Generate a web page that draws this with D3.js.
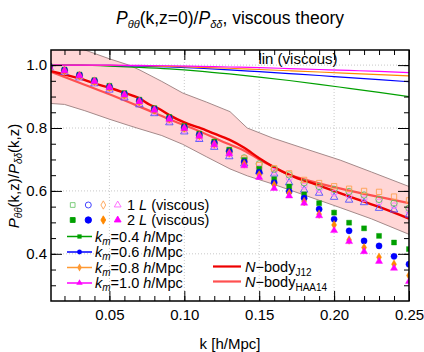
<!DOCTYPE html>
<html>
<head>
<meta charset="utf-8">
<script src="https://cdn.jsdelivr.net/npm/d3@7"></script>
<style>
body { margin:0; background:#fff; }
svg { font-family:"Liberation Sans", Arial, sans-serif; }
</style>
</head>
<body>
<svg id="chart" width="424" height="352"></svg>
<script>
// k values of the simulation/theory points
var kPts = [0.01,0.02,0.03,0.04,0.05,0.06,0.07,0.08,0.09,0.10,0.11,0.12,0.13,
            0.14,0.15,0.16,0.17,0.18,0.19,0.20,0.21,0.22,0.23,0.24,0.25];

// 2-loop (filled markers)
var twoL04 = [0.997,0.986,0.970,0.952,0.934,0.911,0.890,0.863,0.835,0.806,0.782,0.757,0.731,
              0.698,0.670,0.637,0.614,0.589,0.561,0.531,0.499,0.481,0.457,0.436,0.415];
var twoL06 = [0.996,0.984,0.968,0.950,0.931,0.908,0.887,0.860,0.831,0.802,0.778,0.752,0.725,
              0.692,0.659,0.626,0.598,0.577,0.542,0.510,0.473,0.441,0.425,0.392,0.367];
var twoL08 = [0.995,0.983,0.967,0.949,0.930,0.906,0.885,0.858,0.829,0.800,0.776,0.749,0.721,
              0.686,0.651,0.619,0.593,0.566,0.526,0.492,0.444,0.420,0.389,0.367,0.331];
var twoL10 = [0.995,0.982,0.966,0.948,0.929,0.905,0.884,0.857,0.828,0.799,0.774,0.747,0.718,
              0.680,0.643,0.608,0.584,0.561,0.521,0.474,0.439,0.407,0.376,0.354,0.312];

// 1-loop (open markers)
var oneLa = [0.994,0.981,0.965,0.947,0.928,0.904,0.883,0.856,0.828,0.799,0.776,0.751,0.726,
             0.703,0.682,0.672,0.656,0.635,0.625,0.615,0.607,0.600,0.597,0.582,0.570];
var oneLb = [0.995,0.982,0.966,0.948,0.929,0.905,0.884,0.857,0.829,0.800,0.777,0.752,0.727,
             0.705,0.686,0.669,0.651,0.626,0.614,0.605,0.598,0.587,0.573,0.561,0.545];
var oneLc = [0.993,0.979,0.962,0.944,0.925,0.900,0.879,0.851,0.822,0.793,0.769,0.744,0.717,
             0.695,0.672,0.662,0.640,0.615,0.604,0.593,0.585,0.575,0.565,0.553,0.535];
var oneLd = [0.992,0.977,0.960,0.941,0.921,0.896,0.874,0.846,0.817,0.788,0.764,0.739,0.709,
             0.686,0.661,0.654,0.626,0.603,0.593,0.580,0.571,0.563,0.545,0.540,0.524];

// linear (viscous) curves
var linK   = [0.011,0.03,0.05,0.07,0.09,0.11,0.13,0.15,0.17,0.19,0.21,0.23,0.25];
var lin04  = [1.0,0.9995,0.997,0.993,0.988,0.981,0.972,0.962,0.951,0.939,0.926,0.913,0.900];
var lin06  = [1.0,1.0,0.999,0.997,0.994,0.990,0.985,0.979,0.973,0.967,0.960,0.954,0.947];
var lin08  = [1.0,1.0,0.999,0.998,0.996,0.993,0.990,0.986,0.982,0.978,0.974,0.970,0.966];
var lin10  = [1.0,1.0,1.0,0.999,0.998,0.996,0.994,0.992,0.989,0.986,0.983,0.980,0.976];

// N-body fits
var j12K = [0.011,0.02,0.03,0.04,0.05,0.06,0.07,0.077,0.084,0.09,0.10,0.11,0.12,0.13,0.14,
            0.15,0.17,0.19,0.21,0.23,0.25];
var j12V = [0.981,0.970,0.958,0.942,0.928,0.912,0.894,0.874,0.859,0.841,0.818,0.801,0.782,
            0.763,0.737,0.704,0.651,0.617,0.583,0.549,0.512];
var haaK = [0.011,0.03,0.05,0.07,0.09,0.11,0.13,0.14,0.15,0.16,0.17,0.18,0.19,0.21,0.23,0.25];
var haaV = [0.979,0.944,0.907,0.868,0.828,0.790,0.748,0.728,0.700,0.675,0.652,0.637,0.624,
            0.601,0.581,0.561];

// band
var bandK  = [0.011,0.02,0.0336,0.05,0.063,0.0704,0.085,0.099,0.115,0.1305,0.142,0.159,
              0.18,0.204,0.225,0.25];
var bandHi = [1.087,1.071,1.048,1.020,1.0,0.984,0.948,0.911,0.882,0.852,0.800,0.768,
              0.735,0.698,0.660,0.614];
var bandLo = [0.878,0.875,0.855,0.828,0.808,0.797,0.776,0.748,0.708,0.670,0.648,0.622,
              0.587,0.547,0.511,0.462];

var xMajor = [0.05,0.10,0.15,0.20,0.25];
var yMajor = [0.4,0.6,0.8,1.0];

var svg = d3.select("#chart");
var box = {left:51, right:409, top:50, bottom:301};

var x = d3.scaleLinear().domain([0.011,0.25]).range([box.left,box.right]);
var y = d3.scaleLinear().domain([0.25,1.048]).range([box.bottom,box.top]);

svg.append("clipPath").attr("id","clip")
    .append("rect").attr("x",box.left).attr("y",box.top)
    .attr("width",box.right-box.left).attr("height",box.bottom-box.top);

// grid
var grid = svg.append("g").attr("stroke","#c8c8c8").attr("stroke-dasharray","1,2");
xMajor.slice(0,4).forEach(function(k){
    grid.append("line").attr("x1",x(k)).attr("x2",x(k)).attr("y1",box.top).attr("y2",box.bottom);
});
yMajor.forEach(function(v){
    grid.append("line").attr("x1",box.left).attr("x2",box.right).attr("y1",y(v)).attr("y2",y(v));
});

var plot = svg.append("g").attr("clip-path","url(#clip)");

// band
var bandPts = bandK.map(function(k,i){ return {k:k,hi:bandHi[i],lo:bandLo[i]}; });
plot.append("path").datum(bandPts)
    .attr("fill","#ffd6d6")
    .attr("d",d3.area().x(function(d){return x(d.k);})
        .y0(function(d){return y(d.lo);}).y1(function(d){return y(d.hi);}));
["hi","lo"].forEach(function(key){
    plot.append("path").datum(bandPts)
        .attr("fill","none").attr("stroke","#a48a8a").attr("stroke-width",1)
        .attr("d",d3.line().x(function(d){return x(d.k);}).y(function(d){return y(d[key]);}));
});

var smoothXY = d3.line().curve(d3.curveMonotoneX)
    .x(function(d){return x(d[0]);}).y(function(d){return y(d[1]);});
var zip = function(a,b){ return a.map(function(v,i){ return [v,b[i]]; }); };

// linear curves
[[lin04,"#00a000"],[lin06,"#0000ff"],[lin08,"#ff8800"],[lin10,"#ff00ff"]].forEach(function(s){
    plot.append("path").datum(zip(linK,s[0]))
        .attr("fill","none").attr("stroke",s[1]).attr("stroke-width",1.2)
        .attr("d",smoothXY);
});

// N-body
plot.append("path").datum(zip(haaK,haaV))
    .attr("fill","none").attr("stroke","#ff5050").attr("stroke-width",2.2)
    .attr("d",smoothXY);
plot.append("path").datum(zip(j12K,j12V))
    .attr("fill","none").attr("stroke","#ee0000").attr("stroke-width",2.4)
    .attr("d",smoothXY);

// markers
var series = [
    {v:oneLd, shape:d3.symbolTriangle, size:24, color:"#5050ff", open:true},
    {v:oneLc, shape:d3.symbolCircle,   size:28, color:"#ff70ff", open:true},
    {v:oneLb, shape:d3.symbolCircle,   size:32, color:"#60c060", open:true},
    {v:oneLa, shape:d3.symbolSquare,   size:28, color:"#ffa050", open:true},
    {v:twoL04, shape:d3.symbolSquare,  size:25, color:"#00a000", open:false},
    {v:twoL06, shape:d3.symbolCircle,  size:30, color:"#0000ff", open:false},
    {v:twoL08, shape:d3.symbolDiamond, size:22, color:"#ff8800", open:false},
    {v:twoL10, shape:d3.symbolTriangle,size:22, color:"#ff00ff", open:false}
];
series.forEach(function(s){
    plot.append("g").selectAll("path")
        .data(zip(kPts,s.v))
        .enter().append("path")
        .attr("transform",function(d){ return "translate("+x(d[0])+","+y(d[1])+")"; })
        .attr("d",d3.symbol().type(s.shape).size(s.size))
        .attr("fill",s.open ? "none" : s.color)
        .attr("stroke",s.color)
        .attr("stroke-width",s.open ? 0.9 : 0.4);
});

// axes with inward ticks
var minorX = d3.range(2,26).map(function(i){ return i/100; });
var minorY = d3.range(6,21).map(function(i){ return i*0.05; });
var axes = svg.append("g");
var addAxis = function(axis,tx,ty,labels){
    var g = axes.append("g").attr("transform","translate("+tx+","+ty+")").call(axis);
    g.select(".domain").remove();
    g.selectAll("line").attr("stroke","#000").attr("stroke-width",1);
    g.selectAll("text").attr("font-size",15).attr("fill","#000")
        .attr("font-family","'Liberation Sans', Arial, sans-serif");
    if(!labels) g.selectAll("text").remove();
};
addAxis(d3.axisBottom(x).tickValues(minorX).tickSize(-5),0,box.bottom,false);
addAxis(d3.axisTop(x).tickValues(minorX).tickSize(-5),0,box.top,false);
addAxis(d3.axisBottom(x).tickValues(xMajor).tickSize(-10).tickPadding(8).tickFormat(d3.format(".2f")),0,box.bottom,true);
addAxis(d3.axisTop(x).tickValues(xMajor).tickSize(-10),0,box.top,false);
addAxis(d3.axisLeft(y).tickValues(minorY).tickSize(-5),box.left,0,false);
addAxis(d3.axisRight(y).tickValues(minorY).tickSize(-5),box.right,0,false);
addAxis(d3.axisLeft(y).tickValues(yMajor).tickSize(-11).tickPadding(4).tickFormat(d3.format(".1f")),box.left,0,true);
addAxis(d3.axisRight(y).tickValues(yMajor).tickSize(-11),box.right,0,false);

svg.append("rect").attr("x",box.left).attr("y",box.top)
    .attr("width",box.right-box.left).attr("height",box.bottom-box.top)
    .attr("fill","none").attr("stroke","#000").attr("stroke-width",1.5);

// titles
var title = svg.append("text").attr("x",230).attr("y",24)
    .attr("text-anchor","middle").attr("font-size",17.5);
title.append("tspan").attr("font-style","italic").text("P");
title.append("tspan").attr("font-style","italic").attr("font-size",11).attr("dy",4).text("θθ");
title.append("tspan").attr("dy",-4).text("(k,z=0)/");
title.append("tspan").attr("font-style","italic").text("P");
title.append("tspan").attr("font-style","italic").attr("font-size",11).attr("dy",4).text("δδ");
title.append("tspan").attr("dy",-4).text(", viscous theory");

svg.append("text").attr("x",230).attr("y",349).attr("text-anchor","middle")
    .attr("font-size",15).text("k [h/Mpc]");

var ylab = svg.append("text").attr("transform","translate(19,176) rotate(-90)")
    .attr("text-anchor","middle").attr("font-size",15);
ylab.append("tspan").attr("font-style","italic").text("P");
ylab.append("tspan").attr("font-style","italic").attr("font-size",10).attr("dy",3).text("θθ");
ylab.append("tspan").attr("dy",-3).text("(k,z)/");
ylab.append("tspan").attr("font-style","italic").text("P");
ylab.append("tspan").attr("font-style","italic").attr("font-size",10).attr("dy",3).text("δδ");
ylab.append("tspan").attr("dy",-3).text("(k,z)");

svg.append("text").attr("x",298).attr("y",64).attr("text-anchor","middle")
    .attr("font-size",15).text("lin (viscous)");

// legend
var leg = svg.append("g");
var legShapes = [
    [d3.symbolSquare,"#70c870",22],[d3.symbolCircle,"#3030ff",28],
    [d3.symbolDiamond,"#ffa050",20],[d3.symbolTriangle,"#ff60ff",20]];
var legFill = [
    [d3.symbolSquare,"#00a000",24],[d3.symbolCircle,"#0000ff",32],
    [d3.symbolDiamond,"#ff8800",20],[d3.symbolTriangle,"#ff00ff",20]];
var legX = [72.7,88.3,103.3,117.7];
[[legShapes,205,true,"1"],[legFill,220,false,"2"]].forEach(function(r){
    r[0].forEach(function(s,i){
        leg.append("path").attr("transform","translate("+legX[i]+","+r[1]+")")
            .attr("d",d3.symbol().type(s[0]).size(s[2]))
            .attr("fill",r[2] ? "none" : s[1]).attr("stroke",s[1]).attr("stroke-width",0.9);
    });
    var t = leg.append("text").attr("x",127).attr("y",r[1]+5).attr("font-size",14.5);
    t.append("tspan").text(r[3]+" ");
    t.append("tspan").attr("font-style","italic").text("L");
    t.append("tspan").text(" (viscous)");
});
var kmLabels = ["0.4","0.6","0.8","1.0"];
var kmColors = ["#00a000","#0000ff","#ff9933","#ff00ff"];
var kmShapes = [d3.symbolSquare,d3.symbolCircle,d3.symbolDiamond,d3.symbolTriangle];
var kmY = [236.5,252,267.5,283];
kmLabels.forEach(function(lab,i){
    leg.append("line").attr("x1",67).attr("x2",92).attr("y1",kmY[i]).attr("y2",kmY[i])
        .attr("stroke",kmColors[i]).attr("stroke-width",1.5);
    leg.append("path").attr("transform","translate(79.5,"+kmY[i]+")")
        .attr("d",d3.symbol().type(kmShapes[i]).size(18)).attr("fill",kmColors[i]);
    var t = leg.append("text").attr("x",95).attr("y",kmY[i]+5).attr("font-size",14.5);
    t.append("tspan").attr("font-style","italic").text("k");
    t.append("tspan").attr("font-style","italic").attr("font-size",10).attr("dy",3).text("m");
    t.append("tspan").attr("dy",-3).text("="+lab+" ");
    t.append("tspan").attr("font-style","italic").text("h");
    t.append("tspan").text("/Mpc");
});
var nbLabels = ["J12","HAA14"];
var nbColors = ["#ee0000","#ff5050"];
var nbY = [266.5,281.5];
nbLabels.forEach(function(lab,i){
    leg.append("line").attr("x1",213).attr("x2",241).attr("y1",nbY[i]).attr("y2",nbY[i])
        .attr("stroke",nbColors[i]).attr("stroke-width",2.2);
    var t = leg.append("text").attr("x",245).attr("y",nbY[i]+5).attr("font-size",14.5);
    t.append("tspan").attr("font-style","italic").text("N");
    t.append("tspan").text("−body");
    t.append("tspan").attr("font-size",10).attr("dy",4).text(lab);
});
</script>
</body>
</html>
